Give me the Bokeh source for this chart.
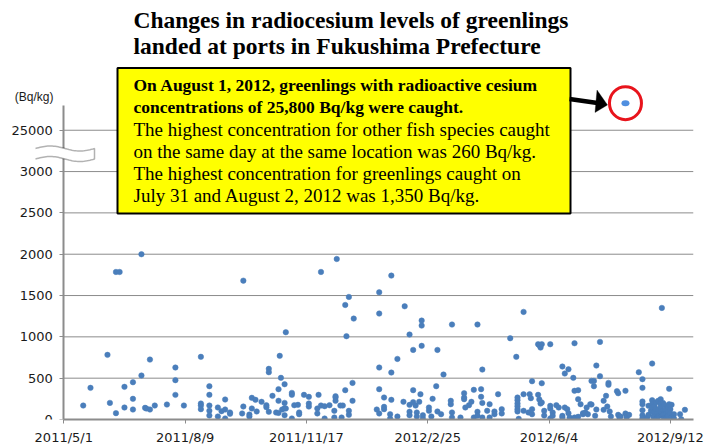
import numpy as np
import pandas as pd
from datetime import datetime, timedelta
from bokeh.plotting import figure
from bokeh.models import (ColumnDataSource, Range1d, FixedTicker, Label,
                          BoxAnnotation, PolyAnnotation, Arrow)
from bokeh.embed import file_html
from bokeh.resources import INLINE

# ---------------- data ----------------
catch_dates = [
    "2011-05-17", "2011-05-23", "2011-06-06", "2011-06-08", "2011-06-13", "2011-06-16",
    "2011-06-20", "2011-06-27", "2011-07-04", "2011-07-07", "2011-07-08", "2011-07-11",
    "2011-07-15", "2011-07-25", "2011-08-01", "2011-08-08", "2011-08-22", "2011-08-29",
    "2011-09-05", "2011-09-08", "2011-09-11", "2011-09-15", "2011-09-25", "2011-09-26",
    "2011-10-01", "2011-10-03", "2011-10-06", "2011-10-07", "2011-10-11", "2011-10-15",
    "2011-10-17", "2011-10-20", "2011-10-23", "2011-10-25", "2011-10-26", "2011-10-27",
    "2011-10-28", "2011-10-30", "2011-10-31", "2011-11-05", "2011-11-07", "2011-11-10",
    "2011-11-11", "2011-11-15", "2011-11-19", "2011-11-26", "2011-11-27", "2011-11-29",
    "2011-12-02", "2011-12-06", "2011-12-10", "2011-12-11", "2011-12-12", "2011-12-15",
    "2011-12-16", "2011-12-17", "2011-12-19", "2011-12-20", "2011-12-22", "2011-12-25",
    "2011-12-26", "2012-01-14", "2012-01-16", "2012-01-20", "2012-01-25", "2012-01-26",
    "2012-01-31", "2012-02-05", "2012-02-06", "2012-02-10", "2012-02-13", "2012-02-15",
    "2012-02-16", "2012-02-18", "2012-02-19", "2012-02-20", "2012-02-21", "2012-02-26",
    "2012-02-28", "2012-02-29", "2012-03-03", "2012-03-04", "2012-03-07", "2012-03-09",
    "2012-03-15", "2012-03-16", "2012-03-23", "2012-03-26", "2012-03-27", "2012-03-30",
    "2012-04-01", "2012-04-03", "2012-04-06", "2012-04-09", "2012-04-10", "2012-04-14",
    "2012-04-16", "2012-04-20", "2012-04-23", "2012-04-26", "2012-05-03", "2012-05-08",
    "2012-05-09", "2012-05-10", "2012-05-14", "2012-05-18", "2012-05-19", "2012-05-20",
    "2012-05-21", "2012-05-26", "2012-05-27", "2012-05-28", "2012-05-29", "2012-05-31",
    "2012-06-05", "2012-06-07", "2012-06-10", "2012-06-12", "2012-06-15", "2012-06-17",
    "2012-06-19", "2012-06-20", "2012-06-21", "2012-06-24", "2012-06-25", "2012-06-28",
    "2012-06-30", "2012-07-02", "2012-07-04", "2012-07-05", "2012-07-06", "2012-07-08",
    "2012-07-09", "2012-07-11", "2012-07-12", "2012-07-13", "2012-07-16", "2012-07-19",
    "2012-07-21", "2012-07-22", "2012-07-23", "2012-07-24", "2012-07-25", "2012-07-30",
    "2012-07-31", "2012-08-01", "2012-08-02", "2012-08-06", "2012-08-07", "2012-08-09",
    "2012-08-17", "2012-08-20", "2012-08-24", "2012-08-25", "2012-08-27", "2012-08-28",
    "2012-08-29", "2012-08-30", "2012-08-31", "2012-09-01", "2012-09-02", "2012-09-04",
    "2012-09-05", "2012-09-06", "2012-09-07", "2012-09-08", "2012-09-09", "2012-09-10",
    "2012-09-11", "2012-09-12", "2012-09-13", "2012-09-15", "2012-09-20", "2012-09-21",
    "2012-09-24",
]
cesium_bq_kg = [
    [169], [383], [782], [201], [1785, 77], [1785],
    [395, 145], [451, 250, 121], [2000, 532], [141], [133], [725, 121],
    [169], [181], [629, 476, 298], [169], [758, 193, 169, 125], [403, 298, 169, 105, 48],
    [145, 36], [101], [242, 121, 12], [85, 69], [73], [1680, 157],
    [60, 36], [262, 133], [238], [97], [214], [173, 149],
    [613, 572, 93], [286], [85], [367, 226, 80], [770], [504],
    [121], [427, 201, 137, 52], [1056, 133], [322, 298, 12], [173], [177],
    [85, 64], [298], [274, 193, 157], [133, 73], [298], [1785, 169],
    [161, 12], [173], [105, 24], [282, 266, 226], [1942], [169],
    [24], [169], [1386, 355], [1008], [1483, 105, 56], [443, 226],
    [1221], [121], [1539, 1282, 629, 367, 73], [266, 153, 125], [64, 12], [1741, 568, 238],
    [733, 36], [214], [1370], [1028, 177, 93, 52], [842, 355, 210], [169],
    [85, 36], [214], [306], [1197, 1136, 891], [52, 12], [145, 105],
    [36], [250], [403], [842, 97], [64], [544],
    [226, 185], [1149, 85, 24], [24], [318, 266, 246], [145], [173],
    [214], [359, 24], [1149, 93, 44], [367, 274], [604, 201, 24], [105],
    [185, 24], [97, 64], [306], [125, 73], [983], [758],
    [266, 234, 193, 161, 125, 97], [8], [1302, 306, 105], [85], [306], [258],
    [463, 125, 64], [911, 298], [899, 242], [870, 193], [911, 439, 206], [105, 48],
    [911, 165, 133, 12], [85, 44], [173], [145], [641, 44, 24], [556, 145],
    [125], [608, 77], [24], [504], [923, 347, 24], [355, 246, 32],
    [185], [77, 64], [85], [145], [64], [185],
    [467, 181], [467, 403], [44], [653, 121], [939, 524], [226, 117],
    [286], [157], [443, 419], [97], [36], [343],
    [318, 56], [24], [36], [347, 73], [52, 24], [56],
    [572], [488, 383, 218, 185, 113, 52, 16], [24], [165, 56], [105], [677, 234, 185, 145],
    [85, 32], [160, 95], [206, 125], [64, 16], [226, 120, 40], [246, 185, 145, 97],
    [1350, 44], [200, 110, 60], [177, 16], [125], [73, 24], [150, 90, 40],
    [371, 185], [125, 73], [177, 24], [64, 12], [64], [4],
    [117],
]

# the outlier shown above the axis break
outlier_date = "2012-08-06"
outlier_value = 25800

y_ticks = [0, 500, 1000, 1500, 2000, 2500, 3000, 25000]
x_tick_dates = ["2011-05-01", "2011-08-09", "2011-11-17", "2012-02-25", "2012-06-04", "2012-09-12"]
x_tick_labels = ["2011/5/1", "2011/8/9", "2011/11/17", "2012/2/25", "2012/6/4", "2012/9/12"]

title_text = "Changes in radiocesium levels of greenlings\nlanded at ports in Fukushima Prefecture"
note_bold = ("On August 1, 2012, greenlings with radioactive cesium\n"
             "concentrations of 25,800 Bq/kg were caught.")
note_regular = ("The highest concentration for other fish species caught\n"
                "on the same day at the same location was 260 Bq/kg.\n"
                "The highest concentration for greenlings caught on\n"
                "July 31 and August 2, 2012 was 1,350 Bq/kg.")
unit_text = "(Bq/kg)"

# ---------------- axis break mapping ----------------
BREAK_LOW = 3000          # last value of the lower segment
BREAK_TICK_POS = 3500     # where the 25000 tick sits on the drawn axis
HIGH_SCALE = 0.41         # compression above 25000


def to_axis(v):
    if v <= BREAK_LOW:
        return v
    return BREAK_TICK_POS + (v - 25000) * HIGH_SCALE


dates, vals = [], []
for d, vs in zip(catch_dates, cesium_bq_kg):
    for v in vs:
        dates.append(pd.Timestamp(d))
        vals.append(v)
src = ColumnDataSource(dict(date=dates, bq=[to_axis(v) for v in vals]))

# ---------------- layout (the frame covers the whole canvas; the y axis sits at 2011/5/1) ----
W, H = 708, 447
FL, FR, FT, FB = 0, 693, 0, 419        # frame edges in px
ORIGIN_PX = 63.3                       # px of 2011/5/1
DAY_PX = 1.2131                        # px per day
UNITS_PER_PX = 12.1                    # Bq/kg per px (lower segment)

date0 = datetime(2011, 5, 1)
x_start = date0 - timedelta(days=(ORIGIN_PX - FL) / DAY_PX)
x_end = date0 + timedelta(days=(FR - ORIGIN_PX) / DAY_PX)
Y_TOP = (FB - FT) * UNITS_PER_PX

p = figure(width=W, height=H, x_axis_type="datetime", output_backend="svg",
           toolbar_location=None, x_range=Range1d(x_start, x_end),
           y_range=Range1d(0, Y_TOP), min_border_left=FL, min_border_right=W - FR,
           min_border_top=FT, min_border_bottom=H - FB)
p.outline_line_color = None
p.background_fill_color = "white"
p.border_fill_color = "white"

x0ms = pd.Timestamp(x_start).value / 1e6
x1ms = pd.Timestamp(x_end).value / 1e6
d0ms = pd.Timestamp(date0).value / 1e6


def px_x(px):
    return x0ms + (px - FL) / (FR - FL) * (x1ms - x0ms)


def px_y(py):
    return (FB - py) / (FB - FT) * Y_TOP


# axes
ytick_pos = [to_axis(v) for v in y_ticks]
p.yaxis.ticker = FixedTicker(ticks=ytick_pos)
p.yaxis.major_label_overrides = {float(pos): f"{v}" for pos, v in zip(ytick_pos, y_ticks)}
p.yaxis.fixed_location = d0ms
p.yaxis.bounds = (0, px_y(105))
xtick_ms = [pd.Timestamp(d).value / 1e6 for d in x_tick_dates]
p.xaxis.ticker = FixedTicker(ticks=xtick_ms)
p.xaxis.major_label_overrides = {float(t): lab for t, lab in zip(xtick_ms, x_tick_labels)}
p.xaxis.bounds = (d0ms, x1ms)

for ax in (p.xaxis, p.yaxis):
    ax.axis_line_color = "#8c8c8c"
    ax.axis_line_width = 2
    ax.major_tick_line_color = "#8c8c8c"
    ax.major_tick_line_width = 1
    ax.major_tick_in = 0
    ax.major_tick_out = 4
    ax.minor_tick_line_color = None
    ax.major_label_text_font = "DejaVu Sans"
    ax.major_label_text_font_size = "13px"
    ax.major_label_text_color = "#1a1a1a"
p.yaxis.major_label_standoff = 7
p.xaxis.major_label_standoff = 6

# horizontal grid lines from the y axis to the right edge
p.xgrid.grid_line_color = None
p.ygrid.grid_line_color = None
grid_pos = [v for v in ytick_pos if v > 0]
p.segment(x0=[d0ms] * len(grid_pos), y0=grid_pos, x1=[x1ms] * len(grid_pos), y1=grid_pos,
          line_color="#8c8c8c", line_width=1, level="underlay")

# points
p.scatter(x="date", y="bq", source=src, size=5.5, fill_color="#4a7ebb",
          line_color="#4a7ebb", line_width=0.5)

od = pd.Timestamp(outlier_date)
oy = to_axis(outlier_value)
p.ellipse(x=[od], y=[oy], width=8, height=6, width_units="screen", height_units="screen",
          fill_color="#4f8fe0", line_color=None)
p.ellipse(x=[od], y=[oy], width=32, height=33, width_units="screen", height_units="screen",
          fill_color=None, line_color="#e8141c", line_width=3)

# title
p.add_layout(Label(x=px_x(133), y=px_y(6), text=title_text, text_font="Liberation Serif",
                   text_font_style="bold", text_font_size="23.5px", text_baseline="top",
                   text_line_height=1.0, text_color="black"))

# y unit
p.add_layout(Label(x=px_x(53), y=px_y(96), text=unit_text, text_font="Liberation Sans",
                   text_font_size="12px", text_align="right", text_baseline="middle",
                   text_color="#1a1a1a"))

# axis break symbol
t = np.linspace(0, 1, 40)
bx = 35 + 59 * t
wave = -2.5 * np.sin(2 * np.pi * t)
top = 148 + wave
bot = 158.5 + wave
band_x = list(bx) + list(bx[::-1])
band_y = list(top) + list(bot[::-1])
p.add_layout(PolyAnnotation(xs=[px_x(v) for v in band_x], ys=[px_y(v) for v in band_y],
                            fill_color="white", fill_alpha=1, line_color=None))
path_x = band_x + band_x[::-1]
path_y = band_y + band_y[::-1]
p.add_layout(PolyAnnotation(xs=[px_x(v) for v in path_x], ys=[px_y(v) for v in path_y],
                            fill_alpha=0, line_color="black", line_width=1.5))

# note box
p.add_layout(BoxAnnotation(left=px_x(117), right=px_x(570), top=px_y(67.5), bottom=px_y(213),
                           fill_color="#ffff00", fill_alpha=1, line_color="black",
                           line_alpha=1, line_width=2))
p.add_layout(Label(x=px_x(133), y=px_y(74), text=note_bold, text_font="Liberation Serif",
                   text_font_style="bold", text_font_size="17.5px", text_baseline="top",
                   text_line_height=1.135, text_color="black"))
p.add_layout(Label(x=px_x(133), y=px_y(118.5), text=note_regular, text_font="Liberation Serif",
                   text_font_size="19px", text_baseline="top",
                   text_line_height=1.046, text_color="black"))

# arrow
p.add_layout(Arrow(end=None, x_start=px_x(569), y_start=px_y(98.5), x_end=px_x(597),
                   y_end=px_y(102.5), line_width=4.5, line_color="black"))
p.add_layout(PolyAnnotation(xs=[px_x(596.5), px_x(607), px_x(594.5)],
                            ys=[px_y(89.5), px_y(104.5), px_y(112)],
                            fill_color="black", fill_alpha=1, line_color="black", line_width=1))

open("out.html", "w").write(file_html(p, INLINE))
